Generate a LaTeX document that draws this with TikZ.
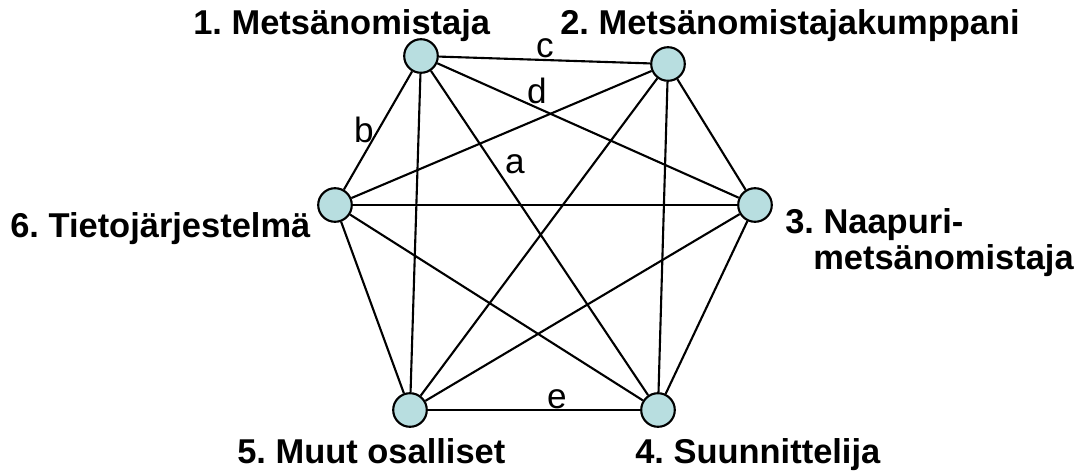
\documentclass[tikz,border=0pt]{standalone}
\usepackage{fontspec}
\setmainfont{Liberation Sans}
\usetikzlibrary{positioning}
\definecolor{ballfill}{RGB}{184,222,224}
\frenchspacing

\begin{document}
\begin{tikzpicture}[x=0.025cm, y=-0.025cm,
    party/.style={circle, draw=black, line width=1.5pt, fill=ballfill,
                  minimum size=0.84cm, inner sep=0pt},
    who/.style={font=\fontsize{24.5}{28}\selectfont\bfseries, inner sep=0pt, anchor=base west},
    tag/.style={font=\fontsize{25}{28}\selectfont, inner sep=0pt}]
    \useasboundingbox (0,0) rectangle (1086,473);
    % the six parties
    \node[party] (p1) at (421,56) {};
    \node[party] (p2) at (668,64) {};
    \node[party] (p3) at (755,205) {};
    \node[party] (p4) at (658,410) {};
    \node[party] (p5) at (410,410) {};
    \node[party] (p6) at (335,205) {};
    % everyone talks to everyone
    \foreach \a/\b in {1/2,1/3,1/4,1/5,1/6,2/3,2/4,2/5,2/6,3/4,3/5,3/6,4/5,4/6,5/6}
      \draw[line width=1.5pt] (p\a) -- (p\b);
    % names
    \node[who] (n1) at (193,35) {1. Metsänomistaja};
    \node[who] (n2) at (560,35) {2. Metsänomistajakumppani};
    \node[who] (n3a) at (785,233) {3. Naapuri-};
    \node[who] (n3b) at (813,269) {metsänomistaja};
    \node[who] (n4) at (635,463) {4. Suunnittelija};
    \node[who] (n5) at (237,463) {5. Muut osalliset};
    \node[who] (n6) at (10,237) {6. Tietojärjestelmä};
    % edge letters
    \node[tag] (ta) at (515,164) {a};
    \node[tag] (tb) at (364,130) {b};
    \node[tag] (tc) at (545,48) {c};
    \node[tag] (td) at (537,91) {d};
    \node[tag] (te) at (557,399) {e};
\end{tikzpicture}
\end{document}
